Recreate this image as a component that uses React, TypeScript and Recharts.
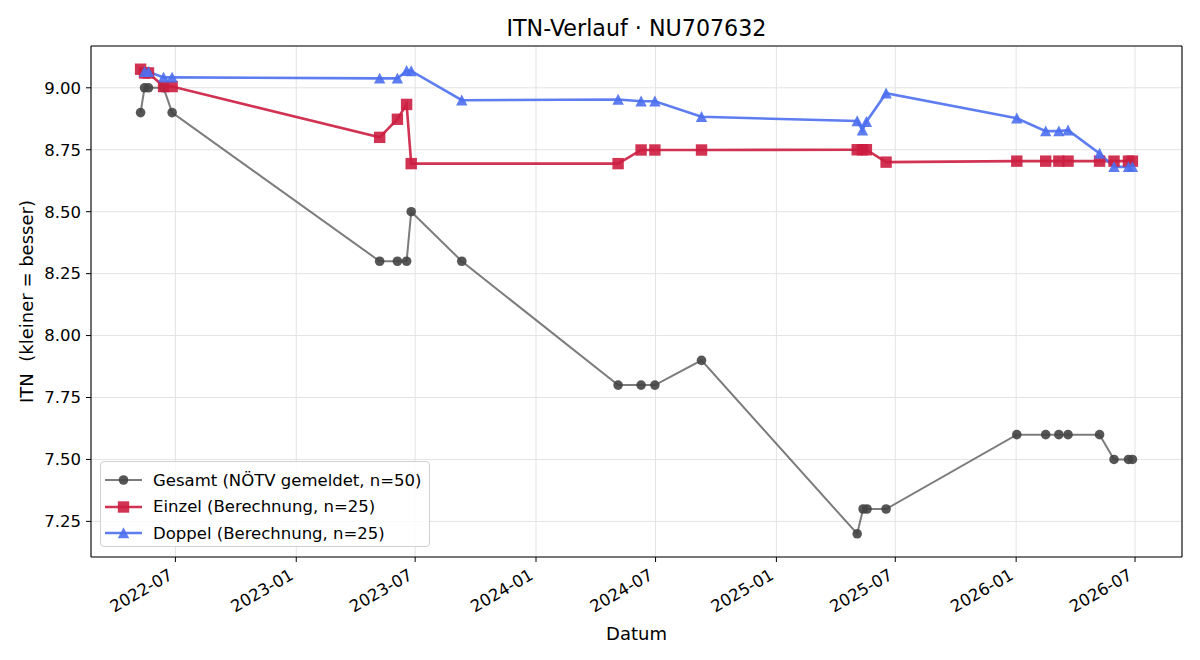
import {
  CartesianGrid,
  Label,
  Line,
  LineChart,
  ReferenceLine,
  XAxis,
  YAxis,
} from "recharts";

const FONT = "DejaVu Sans, sans-serif";

// Gesamt (NÖTV gemeldet)
const gesamtDates = [
  "2022-05-09", "2022-05-15", "2022-05-21", "2022-06-13", "2022-06-26",
  "2023-05-08", "2023-06-04", "2023-06-18", "2023-06-25", "2023-09-10",
  "2024-05-05", "2024-06-09", "2024-06-30", "2024-09-09",
  "2025-05-04", "2025-05-13", "2025-05-19", "2025-06-17",
  "2026-01-02", "2026-02-15", "2026-03-07", "2026-03-21", "2026-05-08",
  "2026-05-30", "2026-06-21", "2026-06-27",
];
const gesamtItn = [
  8.9, 9.0, 9.0, 9.0, 8.9,
  8.3, 8.3, 8.3, 8.5, 8.3,
  7.8, 7.8, 7.8, 7.9,
  7.2, 7.3, 7.3, 7.3,
  7.6, 7.6, 7.6, 7.6, 7.6,
  7.5, 7.5, 7.5,
];

// Einzel (Berechnung)
const einzelDates = [
  "2022-05-09", "2022-05-15", "2022-05-21", "2022-06-13", "2022-06-26",
  "2023-05-08", "2023-06-04", "2023-06-18", "2023-06-25",
  "2024-05-05", "2024-06-09", "2024-06-30", "2024-09-09",
  "2025-05-04", "2025-05-12", "2025-05-18", "2025-06-17",
  "2026-01-02", "2026-02-15", "2026-03-07", "2026-03-21", "2026-05-08",
  "2026-05-30", "2026-06-21", "2026-06-27",
];
const einzelItn = [
  9.075, 9.06, 9.06, 9.005, 9.005,
  8.8, 8.873, 8.933, 8.694,
  8.694, 8.749, 8.749, 8.749,
  8.75, 8.75, 8.75, 8.7,
  8.704, 8.704, 8.704, 8.704, 8.704,
  8.704, 8.704, 8.704,
];

// Doppel (Berechnung)
const doppelDates = [
  "2022-05-15", "2022-05-21", "2022-06-13", "2022-06-26",
  "2023-05-08", "2023-06-04", "2023-06-18", "2023-06-25", "2023-09-10",
  "2024-05-05", "2024-06-09", "2024-06-30", "2024-09-09",
  "2025-05-04", "2025-05-12", "2025-05-18", "2025-06-17",
  "2026-01-02", "2026-02-15", "2026-03-07", "2026-03-21", "2026-05-08",
  "2026-05-30", "2026-06-21", "2026-06-27",
];
const doppelItn = [
  9.065, 9.065, 9.042, 9.042,
  9.038, 9.038, 9.069, 9.068, 8.95,
  8.953, 8.946, 8.946, 8.883,
  8.866, 8.829, 8.863, 8.978,
  8.877, 8.825, 8.825, 8.829, 8.735,
  8.681, 8.681, 8.681,
];

const xTickDates = [
  "2022-07-01", "2023-01-01", "2023-07-01", "2024-01-01", "2024-07-01",
  "2025-01-01", "2025-07-01", "2026-01-01", "2026-07-01",
];
const yTicks = [7.25, 7.5, 7.75, 8.0, 8.25, 8.5, 8.75, 9.0];

const toTs = (d: string) => Date.parse(d + "T00:00:00Z");
const build = (dates: string[], vals: number[]) =>
  dates.map((d, i) => ({ t: toTs(d), v: vals[i] }));

const gesamt = build(gesamtDates, gesamtItn);
const einzel = build(einzelDates, einzelItn);
const doppel = build(doppelDates, doppelItn);
const all = [...gesamt, ...einzel, ...doppel];

// matplotlib-style 5% margins
const tMin = Math.min(...all.map((p) => p.t));
const tMax = Math.max(...all.map((p) => p.t));
const vMin = Math.min(...all.map((p) => p.v));
const vMax = Math.max(...all.map((p) => p.v));
const xDomain = [tMin - 0.05 * (tMax - tMin), tMax + 0.05 * (tMax - tMin)];
const yDomain = [vMin - 0.05 * (vMax - vMin), vMax + 0.05 * (vMax - vMin)];

const GRAY = "#444444";
const RED = "#cc1d40";
const BLUE = "#4d6ff0";
const TICK_FS = 16.5;
const LABEL_FS = 18;

const fmtMonth = (t: number) => new Date(t).toISOString().slice(0, 7);

function DateTick({ x, y, payload }: any) {
  return (
    <g transform={`translate(${x - 8},${y})`}>
      <text
        x={0}
        y={0}
        dy="0.78em"
        textAnchor="end"
        transform="rotate(-30)"
        fontSize={TICK_FS}
        fontFamily={FONT}
        fill="#000"
      >
        {fmtMonth(payload.value)}
      </text>
    </g>
  );
}

const circleDot = (p: any) => (
  <circle
    key={`g-${p.index}`}
    cx={p.cx}
    cy={p.cy}
    r={4.8}
    fill={GRAY}
    fillOpacity={0.9}
  />
);
const squareDot = (p: any) => (
  <rect
    key={`e-${p.index}`}
    x={p.cx - 5.7}
    y={p.cy - 5.7}
    width={11.4}
    height={11.4}
    fill={RED}
    fillOpacity={0.9}
  />
);
const triangleDot = (p: any) => (
  <path
    key={`d-${p.index}`}
    d={`M${p.cx},${p.cy - 5.7}L${p.cx + 5.7},${p.cy + 5.2}L${p.cx - 5.7},${p.cy + 5.2}Z`}
    fill={BLUE}
    fillOpacity={0.9}
  />
);

function Handle({ kind }: { kind: "g" | "e" | "d" }) {
  const color = kind === "g" ? GRAY : kind === "e" ? RED : BLUE;
  return (
    <svg width={38} height={16} style={{ display: "block" }}>
      <line
        x1={0}
        y1={8}
        x2={37}
        y2={8}
        stroke={color}
        strokeOpacity={kind === "g" ? 0.7 : 0.9}
        strokeWidth={kind === "g" ? 2 : 2.6}
      />
      {kind === "g" && <circle cx={18.5} cy={8} r={4.8} fill={GRAY} fillOpacity={0.9} />}
      {kind === "e" && <rect x={12.8} y={2.3} width={11.4} height={11.4} fill={RED} fillOpacity={0.9} />}
      {kind === "d" && <path d="M18.5,2.3L24.2,13.2L12.8,13.2Z" fill={BLUE} fillOpacity={0.9} />}
    </svg>
  );
}

const legendItems: { kind: "g" | "e" | "d"; label: string }[] = [
  { kind: "g", label: "Gesamt (NÖTV gemeldet, n=50)" },
  { kind: "e", label: "Einzel (Berechnung, n=25)" },
  { kind: "d", label: "Doppel (Berechnung, n=25)" },
];

export default function App() {
  return (
    <div
      style={{
        position: "absolute",
        left: 0,
        top: 0,
        width: 1200,
        height: 660,
        background: "#fff",
        fontFamily: FONT,
      }}
    >
      <div
        style={{
          position: "absolute",
          left: 91,
          width: 1091,
          top: 15,
          lineHeight: "26px",
          textAlign: "center",
          fontSize: 22.2,
          color: "#000",
        }}
      >
        ITN-Verlauf · NU707632
      </div>
      <LineChart
        width={1200}
        height={660}
        margin={{ top: 46, right: 18, bottom: 43, left: 31 }}
      >
        <CartesianGrid stroke="#e3e3e3" strokeWidth={1} />
        <XAxis
          dataKey="t"
          type="number"
          domain={xDomain}
          allowDataOverflow
          ticks={xTickDates.map(toTs)}
          tick={<DateTick />}
          tickSize={5}
          tickMargin={5}
          height={60}
          stroke="#000"
          axisLine={{ stroke: "#000", strokeWidth: 1.1 }}
          tickLine={{ stroke: "#000" }}
        >
          <Label
            value="Datum"
            position="bottom"
            offset={10}
            style={{ fontSize: LABEL_FS, fontFamily: FONT, fill: "#000" }}
          />
        </XAxis>
        <YAxis
          dataKey="v"
          type="number"
          domain={yDomain}
          allowDataOverflow
          ticks={yTicks}
          tickFormatter={(v: number) => v.toFixed(2)}
          width={60}
          tickSize={5}
          tickMargin={5}
          axisLine={{ stroke: "#000", strokeWidth: 1.1 }}
          tickLine={{ stroke: "#000" }}
          tick={{ fontSize: TICK_FS, fontFamily: FONT, fill: "#000" }}
        >
          <Label
            content={(props: any) => {
              const vb = props.viewBox;
              const cx = vb.x - 5;
              const cy = vb.y + vb.height / 2;
              return (
                <text
                  x={cx}
                  y={cy}
                  textAnchor="middle"
                  dominantBaseline="central"
                  transform={`rotate(-90, ${cx}, ${cy})`}
                  fontSize={LABEL_FS}
                  fontFamily={FONT}
                  fill="#000"
                  style={{ whiteSpace: "pre" }}
                >
                  ITN  (kleiner = besser)
                </text>
              );
            }}
          />
        </YAxis>
        <ReferenceLine y={yDomain[1]} stroke="#000" strokeWidth={1.1} />
        <ReferenceLine x={xDomain[1]} stroke="#000" strokeWidth={1.1} />
        <Line
          data={gesamt}
          dataKey="v"
          stroke={GRAY}
          strokeOpacity={0.7}
          strokeWidth={2}
          dot={circleDot}
          activeDot={false}
          isAnimationActive={false}
        />
        <Line
          data={einzel}
          dataKey="v"
          stroke={RED}
          strokeOpacity={0.9}
          strokeWidth={2.6}
          dot={squareDot}
          activeDot={false}
          isAnimationActive={false}
        />
        <Line
          data={doppel}
          dataKey="v"
          stroke={BLUE}
          strokeOpacity={0.9}
          strokeWidth={2.6}
          dot={triangleDot}
          activeDot={false}
          isAnimationActive={false}
        />
      </LineChart>
      <div
        style={{
          position: "absolute",
          left: 100,
          top: 461,
          width: 328,
          height: 79,
          border: "1px solid #d0d0d0",
          borderRadius: 4,
          background: "rgba(255,255,255,0.8)",
          paddingTop: 5,
          boxSizing: "content-box",
        }}
      >
        {legendItems.map((it) => (
          <div
            key={it.kind}
            style={{ display: "flex", alignItems: "center", height: 26.5 }}
          >
            <div style={{ marginLeft: 4, marginRight: 10 }}>
              <Handle kind={it.kind} />
            </div>
            <span style={{ fontSize: TICK_FS, color: "#000", whiteSpace: "nowrap" }}>
              {it.label}
            </span>
          </div>
        ))}
      </div>
    </div>
  );
}
